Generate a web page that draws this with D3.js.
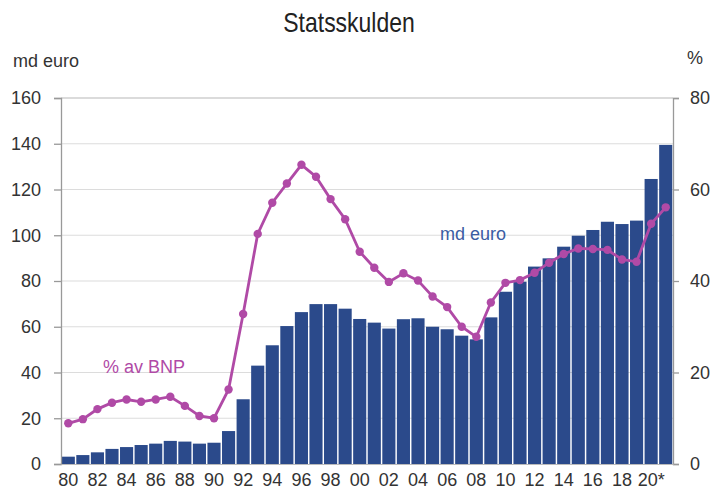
<!DOCTYPE html>
<html>
<head>
<meta charset="utf-8">
<script src="https://cdn.jsdelivr.net/npm/d3@7"></script>
<style>
  body { margin: 0; background: #fff; }
  svg { display: block; font-family: "Liberation Sans", Arial, sans-serif; }
</style>
</head>
<body>
<div id="container"></div>
<script>
const years = d3.range(1980, 2022);
// statsskuld, md euro
const debt = [3.2, 3.9, 5.1, 6.6, 7.4, 8.3, 8.9, 10.1, 9.8, 8.9, 9.3, 14.4, 28.3, 43.0, 51.9, 60.3, 66.4, 69.9, 69.9, 67.9,
  63.4, 61.8, 59.2, 63.3, 63.7, 60.0, 58.9, 56.1, 54.5, 64.1, 75.3, 79.7, 86.3, 89.9, 95.0, 99.8, 102.3, 105.9, 104.9, 106.4,
  124.6, 139.5];
// % av BNP
const ratio = [8.9, 9.8, 12.0, 13.4, 14.1, 13.6, 14.1, 14.7, 12.7, 10.5, 10.0, 16.3, 32.8, 50.3, 57.1, 61.3, 65.4, 62.8, 57.9, 53.5,
  46.4, 42.9, 39.8, 41.7, 40.1, 36.6, 34.3, 30.0, 27.8, 35.3, 39.6, 40.2, 41.8, 44.0, 45.9, 47.1, 47.0, 46.8, 44.7, 44.2,
  52.5, 56.1];
const leftTicks = [0, 20, 40, 60, 80, 100, 120, 140, 160];
const rightTicks = [0, 20, 40, 60, 80];
const xLabelYears = d3.range(1980, 2022, 2);

const W = 712, H = 495;
const margin = { top: 98, right: 39, bottom: 31, left: 61 };
const BLUE = '#2b4a8b';
const MAGENTA = '#b04aa6';

const svg = d3.select('#container').append('svg')
  .attr('width', W)
  .attr('height', H);

const x = d3.scaleBand()
  .domain(years)
  .range([margin.left, W - margin.right])
  .paddingInner(0.1)
  .paddingOuter(0.05);

const yL = d3.scaleLinear().domain([0, 160]).range([H - margin.bottom, margin.top]);
const yR = d3.scaleLinear().domain([0, 80]).range([H - margin.bottom, margin.top]);

// grid
svg.append('g')
  .selectAll('line')
  .data(leftTicks.slice(1))
  .join('line')
  .attr('x1', margin.left)
  .attr('x2', W - margin.right)
  .attr('y1', d => yL(d))
  .attr('y2', d => yL(d))
  .attr('stroke', d => d === 160 ? '#b8b8b8' : '#dcdcdc')
  .attr('stroke-width', 1.2);

// bars
svg.append('g')
  .selectAll('rect')
  .data(years)
  .join('rect')
  .attr('x', d => x(d))
  .attr('width', x.bandwidth())
  .attr('y', (d, i) => yL(debt[i]))
  .attr('height', (d, i) => yL(0) - yL(debt[i]))
  .attr('fill', BLUE);

// axes
const leftAxis = svg.append('g')
  .attr('transform', `translate(${margin.left},0)`)
  .call(d3.axisLeft(yL).tickValues(leftTicks).tickSize(7).tickPadding(13));
const rightAxis = svg.append('g')
  .attr('transform', `translate(${W - margin.right},0)`)
  .call(d3.axisRight(yR).tickValues(rightTicks).tickSize(6).tickPadding(11));
[leftAxis, rightAxis].forEach(a => {
  a.select('.domain').attr('stroke', '#999').attr('stroke-width', 1.3);
  a.selectAll('.tick line').attr('stroke', '#999').attr('stroke-width', 1.3);
  a.selectAll('text').attr('font-size', 18).attr('fill', '#333').attr('font-family', null);
});

const bottomAxis = svg.append('g')
  .attr('transform', `translate(0,${H - margin.bottom})`)
  .call(d3.axisBottom(x).tickValues(xLabelYears).tickSize(0).tickPadding(9)
    .tickFormat(d => (d === 2020 ? '20*' : String(d % 100).padStart(2, '0'))));
bottomAxis.select('.domain').attr('stroke', '#bbb').attr('stroke-width', 1.2);
bottomAxis.selectAll('text').attr('font-size', 18).attr('fill', '#333').attr('font-family', null);

// line
const line = d3.line()
  .x((d, i) => x(years[i]) + x.bandwidth() / 2)
  .y(d => yR(d));
svg.append('path')
  .datum(ratio)
  .attr('d', line)
  .attr('fill', 'none')
  .attr('stroke', MAGENTA)
  .attr('stroke-width', 2.8);
svg.append('g')
  .selectAll('circle')
  .data(ratio)
  .join('circle')
  .attr('cx', (d, i) => x(years[i]) + x.bandwidth() / 2)
  .attr('cy', d => yR(d))
  .attr('r', 4.2)
  .attr('fill', MAGENTA);

// texts
svg.append('text')
  .attr('transform', 'translate(349,32) scale(0.82,1)')
  .attr('text-anchor', 'middle')
  .attr('font-size', 28)
  .attr('fill', '#222')
  .text('Statsskulden');
svg.append('text')
  .attr('x', 13).attr('y', 67)
  .attr('font-size', 18).attr('fill', '#333')
  .text('md euro');
svg.append('text')
  .attr('x', 687).attr('y', 64)
  .attr('font-size', 18).attr('fill', '#333')
  .text('%');
svg.append('text')
  .attr('x', 103).attr('y', 373)
  .attr('font-size', 18).attr('fill', MAGENTA)
  .text('% av BNP');
svg.append('text')
  .attr('x', 440).attr('y', 240)
  .attr('font-size', 18).attr('fill', '#3b5ca3')
  .text('md euro');
</script>
</body>
</html>
